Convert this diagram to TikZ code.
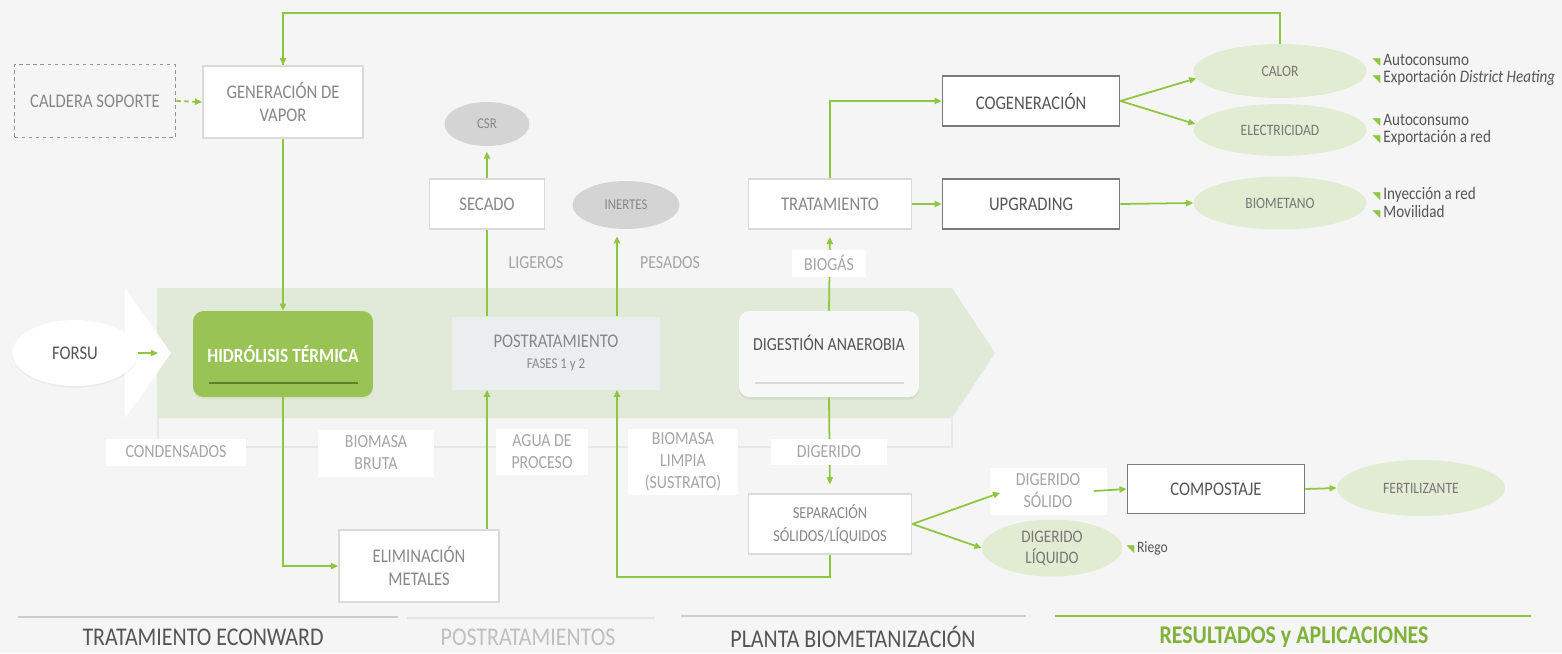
\documentclass[tikz,border=0pt]{standalone}
\usepackage{fontspec}
\setmainfont{Carlito}[FakeStretch=0.86]
\newfontfamily\symfont{DejaVu Sans}
\usetikzlibrary{positioning,arrows.meta,shapes,shadows}

\definecolor{lgreen}{RGB}{141,198,63}
\definecolor{bandgreen}{RGB}{225,234,216}
\definecolor{ellgreen}{RGB}{226,236,211}
\definecolor{hydgreen}{RGB}{153,195,84}
\definecolor{hydline}{RGB}{92,128,45}
\definecolor{bordergray}{RGB}{218,218,218}
\definecolor{darkborder}{RGB}{122,122,122}
\definecolor{txtgray}{RGB}{135,135,135}
\definecolor{darktxt}{RGB}{85,85,85}
\definecolor{tagtxt}{RGB}{165,165,165}
\definecolor{postfill}{RGB}{234,238,239}
\definecolor{csrgray}{RGB}{212,212,212}
\definecolor{bgcol}{RGB}{245,245,245}

\newcommand{\tick}{{\symfont\color{lgreen}\fontsize{6}{6}\selectfont ◥}\,}

\tikzstyle{procbox}=[rectangle, draw=bordergray, fill=white, line width=1.1pt, text=txtgray, align=center,
inner sep=0pt, font=\fontsize{11}{13.5}\selectfont]
\tikzstyle{keybox}=[procbox, draw=darkborder, text=darktxt, minimum width=3.54cm, minimum height=1cm]
\tikzstyle{tagbox}=[rectangle, fill=white, text=tagtxt, align=center, inner sep=0pt, font=\fontsize{10.5}{12.5}\selectfont]
\tikzstyle{resell}=[ellipse, fill=ellgreen, inner sep=0pt, text=darktxt!80, align=center, font=\fontsize{9}{11}\selectfont]
\tikzstyle{grayell}=[ellipse, fill=csrgray, inner sep=0pt, text=txtgray, font=\fontsize{8.5}{10}\selectfont]
\tikzstyle{bandbox}=[rectangle, rounded corners=6pt, inner sep=0pt, minimum width=3.6cm, minimum height=1.72cm]
\tikzstyle{uselist}=[anchor=west, align=left, inner sep=0pt, text=darktxt, font=\fontsize{10}{9.8}\selectfont]
\tikzstyle{title}=[inner sep=0pt, font=\fontsize{14.5}{15}\selectfont]
\tikzstyle{line}=[-, lgreen, line width=1pt]
\tikzstyle{flow}=[line, -{Triangle[length=4pt,width=3.5pt]}]
\tikzstyle{bracket}=[-, black!9, line width=1pt]

\begin{document}
\begin{tikzpicture}[x=0.02cm, y=-0.02cm]

\fill[bgcol] (0,0) rectangle (1562,653);
\useasboundingbox (0,0) rectangle (1562,653);

% main band
\fill[bandgreen] (157,288) -- (952,288) -- (995,353) -- (952,418) -- (157,418) -- cycle;
\fill[white] (125,288) -- (171,353) -- (125,418) -- cycle;
\draw[bracket] (158,418) -- (158,447) -- (952,447) -- (952,418);

% steam / pretreatment
    \node (caldera) [procbox, fill=none, draw=darkborder!80, dash pattern=on 2pt off 2pt, minimum width=3.22cm, minimum height=1.46cm] at (95,101) {CALDERA SOPORTE};
    \node (genvap) [procbox, minimum width=3.2cm, minimum height=1.44cm] at (283,102) {GENERACIÓN DE\\VAPOR};
    \node (forsu) [ellipse, fill=white, inner sep=0pt, minimum width=2.5cm, minimum height=1.32cm, text=darktxt, font=\fontsize{11}{13}\selectfont,
      drop shadow={shadow xshift=0pt, shadow yshift=-1pt, opacity=0.08}] at (75,353) {FORSU};
    \coordinate (bandin) at (158,353);
    \node (hidro) [bandbox, fill=hydgreen, text=white, font=\bfseries\fontsize{11.5}{13}\selectfont,
      drop shadow={shadow xshift=0pt, shadow yshift=-1pt, opacity=0.1}] at (283,354) {HIDRÓLISIS TÉRMICA};
    \draw[hydline, line width=0.8pt] (209,383) -- (358,383);
    \node (elim) [procbox, minimum width=3.2cm, minimum height=1.44cm] at (419,566) {ELIMINACIÓN\\METALES};

% post treatment
    \node (postrat) [rectangle, fill=postfill, inner sep=0pt, minimum width=4.18cm, minimum height=1.46cm, text=txtgray, align=center,
      font=\fontsize{11}{13}\selectfont] at (556,353) {POSTRATAMIENTO\\[-1pt]{\fontsize{8.5}{10}\selectfont FASES 1 y 2}};
    \node (secado) [procbox, minimum width=2.3cm, minimum height=1cm] at (487,204) {SECADO};
    \node (csr) [grayell, minimum width=1.7cm, minimum height=0.88cm] at (487,124) {CSR};
    \node (inertes) [grayell, minimum width=2.14cm, minimum height=0.96cm] at (626,205) {INERTES};
    \node (ligeros) [text=tagtxt, font=\fontsize{10.5}{12}\selectfont] at (536,263) {LIGEROS};
    \node (pesados) [text=tagtxt, font=\fontsize{10.5}{12}\selectfont] at (670,263) {PESADOS};

% biomethanisation
    \node (digest) [bandbox, fill=white!97!black, drop shadow={shadow xshift=0pt, shadow yshift=-1.5pt, opacity=0.12}] at (829,354) {};
    \node (digtxt) [text=darktxt, font=\fontsize{10.5}{12}\selectfont] at (829,343) {DIGESTIÓN ANAEROBIA};
    \draw[black!15, line width=0.6pt] (755,383) -- (904,383);
    \node (tratam) [procbox, minimum width=3.26cm, minimum height=1cm] at (830,204) {TRATAMIENTO};
    \node (separ) [procbox, minimum width=3.26cm, minimum height=1.2cm, font=\fontsize{9.5}{13}\selectfont] at (830,524) {SEPARACIÓN\\SÓLIDOS/LÍQUIDOS};
    \node (cogen) [keybox] at (1031,101) {COGENERACIÓN};
    \node (upgr) [keybox] at (1031,204) {UPGRADING};
    \node (compost) [keybox, minimum height=0.98cm] at (1216,489) {COMPOSTAJE};

% results
    \node (calor) [resell, minimum width=3.46cm, minimum height=1.08cm] at (1280,71) {CALOR};
    \node (elec) [resell, minimum width=3.46cm, minimum height=1.04cm] at (1280,130) {ELECTRICIDAD};
    \node (biomet) [resell, minimum width=3.46cm, minimum height=1.06cm] at (1280,203) {BIOMETANO};
    \node (fert) [resell, minimum width=3.36cm, minimum height=1.12cm] at (1421,488) {FERTILIZANTE};
    \node (digliq) [resell, minimum width=2.8cm, minimum height=1.14cm, font=\fontsize{10}{12}\selectfont] at (1052,548) {DIGERIDO\\LÍQUIDO};
    \node (calorlist) [uselist] at (1372,70) {\tick Autoconsumo\\\tick Exportación \textit{District Heating}};
    \node (eleclist) [uselist] at (1372,130) {\tick Autoconsumo\\\tick Exportación a red};
    \node (biolist) [uselist] at (1372,203) {\tick Inyección a red\\\tick Movilidad};
    \node (riegolist) [uselist, font=\fontsize{9}{10}\selectfont] at (1126,548) {\tick Riego};

%Lines ..
\draw[line] (calor.north) -- ++(0,-31) -| (genvap.north);
\draw[flow] ([yshift=6pt]genvap.north) -- (genvap.north);
\draw[flow, dash pattern=on 2.5pt off 2pt] (caldera.east) -- (genvap.west);
\draw[flow] (genvap.south) -- (hidro.north);
\draw[flow] (forsu.east) -- (bandin);
\draw[flow] (hidro.south) |- (elim.west);
\draw[flow] (elim.north -| secado) -- (postrat.south -| secado);
\draw[line] (postrat.north -| secado) -- (secado.south);
\draw[flow, shorten >=3pt] (secado.north) -- (csr.south);
\draw[flow, shorten >=4pt] ([xshift=1.22cm]postrat.north) -- ([xshift=1.22cm]postrat.north |- inertes.south);
\draw[flow, shorten >=4pt] (digest.north) -- (tratam.south);
\draw[flow] (tratam.north) |- (cogen.west);
\draw[flow] (tratam.east) -- (upgr.west);
\draw[flow] (cogen.east) -- (calor.185);
\draw[flow] (cogen.east) -- (elec.176);
\draw[flow] (upgr.east) -- (biomet.west);
\draw[flow, shorten >=5pt] (digest.south) -- (separ.north);
\draw[flow] (separ.south) -- ++(0,22) -| ([xshift=1.22cm]postrat.south);
\draw[flow] (compost.east) -- (fert.west);

% labels on the lines
    \node (biogas) [tagbox, minimum width=1.48cm, minimum height=0.54cm] at (829,263) {BIOGÁS};
    \node (condens) [tagbox, minimum width=2.8cm, minimum height=0.54cm] at (176,452) {CONDENSADOS};
    \node (biobruta) [tagbox, minimum width=2.34cm, minimum height=0.94cm] at (376,453) {BIOMASA\\BRUTA};
    \node (agua) [tagbox, minimum width=1.84cm, minimum height=0.92cm] at (542,452) {AGUA DE\\PROCESO};
    \node (biolimp) [tagbox, minimum width=2.22cm, minimum height=1.32cm] at (683,462) {BIOMASA\\LIMPIA\\(SUSTRATO)};
    \node (digerido) [tagbox, minimum width=2.34cm, minimum height=0.52cm] at (829,452) {DIGERIDO};
    \node (digsol) [tagbox, minimum width=2.34cm, minimum height=0.94cm] at (1048,491) {DIGERIDO\\SÓLIDO};
\draw[flow] (separ.east) -- ([xshift=0.22cm,yshift=-1pt]digsol.west);
\draw[flow] (separ.east) -- (digliq.west);
\draw[flow] ([xshift=-0.26cm]digsol.east) -- (compost.west);

% sections
\draw[black!20, line width=1.2pt] (18,617) -- (398,617);
\draw[black!11, line width=1.2pt] (407,618) -- (655,618);
\draw[black!20, line width=1.2pt] (681,616) -- (1026,616);
\draw[lgreen, line width=1.2pt] (1055,616) -- (1531,616);
    \node (sec1) [title, text=darktxt] at (203,637) {TRATAMIENTO ECONWARD};
    \node (sec2) [title, text=black!25] at (528,637) {POSTRATAMIENTOS};
    \node (sec3) [title, text=darktxt] at (853,637) {PLANTA BIOMETANIZACIÓN};
    \node (sec4) [title, text=lgreen!90!black, font=\bfseries\fontsize{14.5}{15}\selectfont] at (1294,637) {RESULTADOS y APLICACIONES};

\end{tikzpicture}
\end{document}
